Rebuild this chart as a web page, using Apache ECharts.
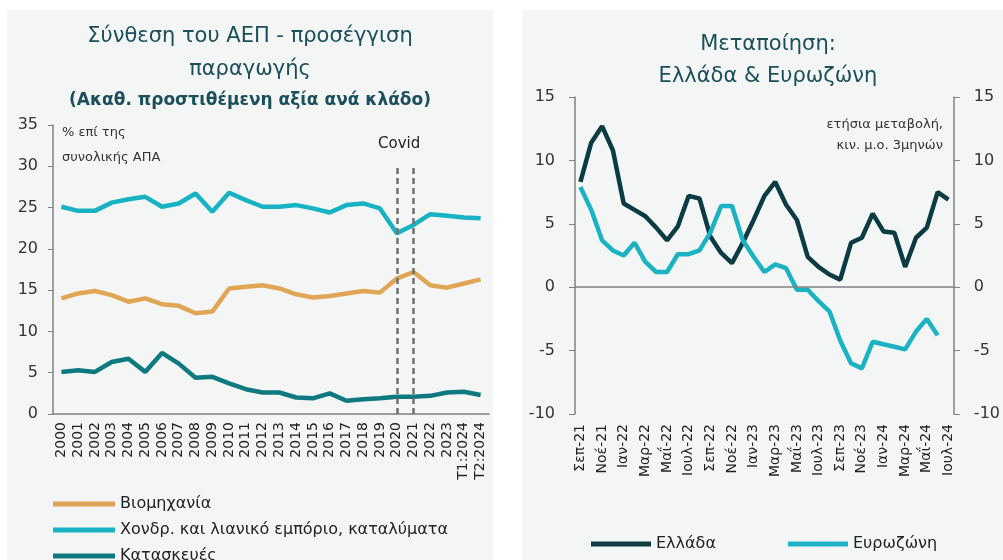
<!DOCTYPE html>
<html>
<head>
<meta charset="utf-8">
<script src="https://cdn.jsdelivr.net/npm/echarts@6/dist/echarts.min.js"></script>
<style>
  html, body { margin: 0; padding: 0; background: #fff; }
  .panel { position: absolute; top: 10px; height: 550px; background: #f4f6f6; }
  #left { left: 7px; width: 486px; }
  #right { left: 522px; width: 481px; }
</style>
</head>
<body>
<div id="left" class="panel"></div>
<div id="right" class="panel"></div>
<script>
// αριστερό γράφημα - % επί της συνολικής ΑΠΑ
const years = ['2000', '2001', '2002', '2003', '2004', '2005', '2006', '2007', '2008', '2009',
  '2010', '2011', '2012', '2013', '2014', '2015', '2016', '2017', '2018', '2019',
  '2020', '2021', '2022', '2023', 'T1:2024', 'T2:2024'];
const industry = [14.0, 14.6, 14.9, 14.4, 13.6, 14.0, 13.3, 13.1, 12.2, 12.4,
  15.2, 15.4, 15.6, 15.2, 14.5, 14.1, 14.3, 14.6, 14.9, 14.7,
  16.4, 17.2, 15.6, 15.3, 15.8, 16.3];
const trade = [25.1, 24.6, 24.6, 25.6, 26.0, 26.3, 25.1, 25.5, 26.7, 24.5,
  26.8, 25.9, 25.1, 25.1, 25.3, 24.9, 24.4, 25.3, 25.5, 24.9,
  21.9, 22.9, 24.2, 24.0, 23.8, 23.7];
const construction = [5.1, 5.3, 5.1, 6.3, 6.7, 5.1, 7.4, 6.1, 4.4, 4.5,
  3.7, 3.0, 2.6, 2.6, 2.0, 1.9, 2.5, 1.6, 1.8, 1.9,
  2.1, 2.1, 2.2, 2.6, 2.7, 2.3];
const covidYears = ['2020', '2021'];
const covidTop = 29.8;

// δεξί γράφημα - ετήσια μεταβολή, κιν. μ.ο. 3μηνών
const months = ['Σεπ-21', 'Οκτ-21', 'Νοέ-21', 'Δεκ-21', 'Ιαν-22', 'Φεβ-22', 'Μαρ-22', 'Απρ-22',
  'Μαΐ-22', 'Ιουν-22', 'Ιουλ-22', 'Αυγ-22', 'Σεπ-22', 'Οκτ-22', 'Νοέ-22', 'Δεκ-22',
  'Ιαν-23', 'Φεβ-23', 'Μαρ-23', 'Απρ-23', 'Μαΐ-23', 'Ιουν-23', 'Ιουλ-23', 'Αυγ-23',
  'Σεπ-23', 'Οκτ-23', 'Νοέ-23', 'Δεκ-23', 'Ιαν-24', 'Φεβ-24', 'Μαρ-24', 'Απρ-24',
  'Μαΐ-24', 'Ιουν-24', 'Ιουλ-24'];
const greece = [8.3, 11.4, 12.7, 10.8, 6.6, 6.1, 5.6, 4.7, 3.7, 4.8, 7.2, 7.0,
  4.0, 2.7, 1.9, 3.5, 5.3, 7.2, 8.3, 6.5, 5.3, 2.4, 1.6, 1.0,
  0.6, 3.5, 3.9, 5.8, 4.4, 4.3, 1.6, 3.9, 4.7, 7.5, 6.9];
const eurozone = [7.9, 6.1, 3.7, 2.9, 2.5, 3.5, 2.0, 1.2, 1.2, 2.6, 2.6, 2.9,
  4.3, 6.4, 6.4, 3.7, 2.4, 1.2, 1.8, 1.5, -0.2, -0.2, -1.1, -1.9,
  -4.2, -6.0, -6.4, -4.3, -4.5, -4.7, -4.9, -3.5, -2.5, -3.8];

const FONT = 'DejaVu Sans';
const TITLE_COLOR = '#1b4f5b';
const AXIS_COLOR = '#808080';

const line = (name, data, color, extra) => Object.assign({
  type: 'line',
  name: name,
  data: data,
  showSymbol: false,
  symbol: 'none',
  color: color,
  lineStyle: { width: 4.5, color: color },
  emphasis: { disabled: true },
}, extra || {});

const leftChart = echarts.init(document.getElementById('left'));
leftChart.setOption({
  animation: false,
  textStyle: { fontFamily: FONT },
  title: [
    {
      text: 'Σύνθεση του ΑΕΠ - προσέγγιση\nπαραγωγής',
      left: 'center',
      top: 5,
      textStyle: { fontSize: 21, fontWeight: 'normal', color: TITLE_COLOR, lineHeight: 33, fontFamily: FONT },
    },
    {
      text: '(Ακαθ. προστιθέμενη αξία ανά κλάδο)',
      left: 'center',
      top: 77,
      textStyle: { fontSize: 17, fontWeight: 'bold', color: TITLE_COLOR, fontFamily: FONT },
    },
  ],
  grid: { left: 46, right: 4, top: 115, bottom: 146 },
  legend: {
    orient: 'vertical',
    left: 41,
    top: 481,
    height: 200,
    icon: 'rect',
    itemWidth: 62,
    itemHeight: 5,
    itemGap: 10,
    textStyle: { fontSize: 16, color: '#222', fontFamily: FONT },
    data: ['Βιομηχανία', 'Χονδρ. και λιανικό εμπόριο, καταλύματα', 'Κατασκευές'],
  },
  xAxis: {
    type: 'category',
    data: years,
    axisLine: { lineStyle: { color: AXIS_COLOR, width: 1.5 } },
    axisTick: { show: false },
    axisLabel: { rotate: 90, interval: 0, fontSize: 14, color: '#222', margin: 8 },
  },
  yAxis: {
    type: 'value',
    min: 0,
    max: 35,
    interval: 5,
    axisLine: { show: true, lineStyle: { color: AXIS_COLOR, width: 1.5 } },
    axisTick: { show: true, length: 5 },
    splitLine: { show: false },
    axisLabel: { fontSize: 16, color: '#333', margin: 15 },
  },
  graphic: [
    {
      type: 'text',
      left: 55,
      top: 110,
      style: { text: '% επί της\nσυνολικής ΑΠΑ', fontSize: 13, lineHeight: 25, fill: '#333', fontFamily: FONT },
    },
    {
      type: 'text',
      left: 371,
      top: 127,
      style: { text: 'Covid', fontSize: 15, fill: '#222', fontFamily: FONT },
    },
  ],
  series: [
    line('Βιομηχανία', industry, '#e0a655'),
    line('Χονδρ. και λιανικό εμπόριο, καταλύματα', trade, '#17b3c4'),
    line('Κατασκευές', construction, '#0e7a7f', {
      markLine: {
        silent: true,
        symbol: 'none',
        label: { show: false },
        lineStyle: { type: [6, 4], color: '#6f6f6f', width: 2.5 },
        data: covidYears.map((y) => [{ coord: [y, covidTop] }, { coord: [y, 0] }]),
      },
    }),
  ],
});

const rightChart = echarts.init(document.getElementById('right'));
const yRight = (pos) => ({
  type: 'value',
  position: pos,
  min: -10,
  max: 15,
  interval: 5,
  axisLine: { show: true, lineStyle: { color: AXIS_COLOR, width: 1.5 } },
  axisTick: { show: true, length: 6 },
  splitLine: { show: false },
  axisLabel: { fontSize: 16, color: '#333', margin: 20 },
});
rightChart.setOption({
  animation: false,
  textStyle: { fontFamily: FONT },
  grid: { left: 53, right: 45, top: 87, bottom: 146 },
  legend: [
    {
      left: 64, top: 521, icon: 'rect', itemWidth: 60, itemHeight: 5,
      textStyle: { fontSize: 16, color: '#222', fontFamily: FONT },
      data: ['Ελλάδα'],
    },
    {
      left: 261, top: 521, icon: 'rect', itemWidth: 60, itemHeight: 5,
      textStyle: { fontSize: 16, color: '#222', fontFamily: FONT },
      data: ['Ευρωζώνη'],
    },
  ],
  xAxis: {
    type: 'category',
    data: months,
    axisLine: { show: false, onZero: false },
    axisTick: { show: false },
    axisLabel: { rotate: 90, interval: 1, fontSize: 14, color: '#222', margin: 10 },
  },
  yAxis: [yRight('left'), yRight('right')],
  graphic: [
    {
      type: 'text',
      x: 246,
      y: 19,
      style: {
        text: 'Μεταποίηση:\nΕλλάδα & Ευρωζώνη',
        align: 'center',
        verticalAlign: 'top',
        fontSize: 21,
        lineHeight: 32,
        fill: TITLE_COLOR,
        fontFamily: FONT,
      },
    },
    {
      type: 'text',
      x: 421,
      y: 104,
      style: {
        text: 'ετήσια μεταβολή,\nκιν. μ.ο. 3μηνών',
        align: 'right',
        verticalAlign: 'top',
        fontSize: 13,
        lineHeight: 21,
        fill: '#333',
        fontFamily: FONT,
      },
    },
  ],
  series: [
    line('Ελλάδα', greece, '#0d3b44', {
      markLine: {
        silent: true,
        symbol: 'none',
        label: { show: false },
        lineStyle: { type: 'solid', color: AXIS_COLOR, width: 1.5 },
        data: [{ yAxis: 0 }],
      },
    }),
    line('Ευρωζώνη', eurozone, '#1bb3c4'),
  ],
});
</script>
</body>
</html>
